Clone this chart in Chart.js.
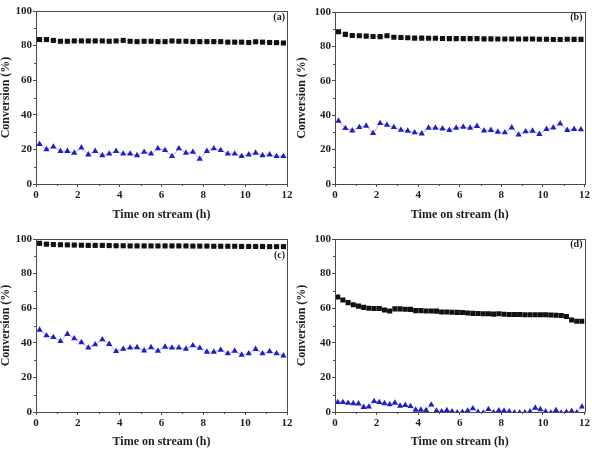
<!DOCTYPE html>
<html>
<head>
<meta charset="utf-8">
<script src="https://cdn.jsdelivr.net/npm/chart.js@4/dist/chart.umd.min.js"></script>
<style>
  body { margin: 0; background: #fff; }
  #wrap { position: relative; width: 592px; height: 450px; }
  canvas { position: absolute; }
</style>
</head>
<body>
<div id="wrap">
  <canvas id="ca" width="296" height="225" style="left:0;top:0"></canvas>
  <canvas id="cb" width="296" height="225" style="left:296px;top:0"></canvas>
  <canvas id="cc" width="296" height="225" style="left:0;top:225px"></canvas>
  <canvas id="cd" width="296" height="225" style="left:296px;top:225px"></canvas>
</div>
<script>
// sampling times (h)
const timeABC = [0.17, 0.5, 0.83, 1.17, 1.5, 1.83, 2.17, 2.5, 2.83, 3.17, 3.5, 3.83,
  4.17, 4.5, 4.83, 5.17, 5.5, 5.83, 6.17, 6.5, 6.83, 7.17, 7.5, 7.83,
  8.17, 8.5, 8.83, 9.17, 9.5, 9.83, 10.17, 10.5, 10.83, 11.17, 11.5, 11.83];
const timeD = [0.13, 0.38, 0.63, 0.88, 1.13, 1.38, 1.63, 1.88, 2.13, 2.38, 2.63, 2.88,
  3.13, 3.38, 3.63, 3.88, 4.13, 4.38, 4.63, 4.88, 5.13, 5.38, 5.63, 5.88,
  6.13, 6.38, 6.63, 6.88, 7.13, 7.38, 7.63, 7.88, 8.13, 8.38, 8.63, 8.88,
  9.13, 9.38, 9.63, 9.88, 10.13, 10.38, 10.63, 10.88, 11.13, 11.38, 11.63, 11.88];

// (a)
const squaresA = [83.5, 83.5, 83, 82.5, 82.5, 82.7, 82.7, 82.7, 82.7, 82.7, 82.5, 82.7,
  83, 82.5, 82.3, 82.5, 82.5, 82.3, 82.3, 82.7, 82.5, 82.5, 82.3, 82.3,
  82.3, 82.3, 82.3, 82, 82, 82, 81.8, 82.2, 82, 81.8, 81.7, 81.5];
const trianglesA = [23, 20, 21.5, 19, 19, 18, 21, 17, 19, 16.5, 17.5, 19,
  17.5, 17.5, 16.5, 18.5, 17.5, 20.5, 19.5, 16, 20.5, 18, 18.5, 14.5,
  19, 20.5, 19.5, 17.5, 17.5, 16, 17, 18, 16.5, 17, 16, 16];

// (b)
const squaresB = [88.5, 87, 86.3, 86.2, 86, 85.8, 85.7, 86.2, 85.3, 85.2, 85, 84.8,
  84.8, 84.7, 84.7, 84.6, 84.5, 84.5, 84.5, 84.5, 84.5, 84.4, 84.4, 84.3,
  84.3, 84.3, 84.3, 84.3, 84.3, 84.2, 84.2, 84, 84, 84.2, 84.1, 84.1];
const trianglesB = [36.7, 32.4, 31, 33, 33.8, 29.5, 35.3, 34.3, 33, 31.4, 30.9, 29.9,
  29.3, 32.6, 32.6, 32.2, 31.3, 32.6, 33.2, 32.6, 33.6, 31, 31.3, 30.3,
  29.9, 32.8, 28.6, 30.5, 30.9, 29, 31.9, 32.8, 35.1, 31.3, 31.9, 31.7];

// (c)
const squaresC = [97.5, 97, 96.8, 96.7, 96.6, 96.5, 96.4, 96.3, 96.3, 96.3, 96.2, 96.1,
  96.1, 96, 96, 96, 96, 96, 96, 96, 96, 96, 95.9, 95.9,
  95.9, 95.8, 95.8, 95.8, 95.8, 95.7, 95.7, 95.7, 95.7, 95.6, 95.6, 95.6];
const trianglesC = [47.5, 44.2, 43.2, 40.9, 45, 42.5, 40.2, 37.1, 39, 41.9, 39.2, 35.1,
  36.5, 37.1, 37.3, 35.5, 37.3, 35.3, 37.6, 37.1, 37.1, 36.5, 38.4, 37,
  34.7, 34.7, 35.9, 33.8, 35.3, 33, 33.8, 36.3, 33.8, 35, 33.8, 32.6];

// (d)
const squaresD = [66.5, 64.7, 63.2, 62, 61.2, 60.5, 60, 59.8, 59.8, 59, 58.4, 59.6,
  59.6, 59.4, 59.3, 58.6, 58.6, 58.4, 58.4, 58.3, 57.8, 57.8, 57.7, 57.6,
  57.5, 57.2, 57, 56.9, 56.8, 56.8, 56.6, 56.8, 56.5, 56.4, 56.4, 56.4,
  56.2, 56.2, 56.2, 56.2, 56.2, 56.1, 55.9, 55.8, 55.2, 53.2, 52.5, 52.5];
const trianglesD = [5.6, 5.6, 5.2, 5, 4.8, 2.8, 3, 6.2, 5.6, 5, 4.3, 5.3,
  3.5, 4, 3.3, 1.2, 1.2, 1, 4.2, 0.7, 0.3, 1, 0.3, -0.3,
  0, 0.7, 2, 0, -0.5, 1.6, -0.3, 0.8, 0.6, 0.2, -0.3, -0.3,
  -0.3, 0.2, 2.4, 1.5, 0.2, -0.5, 1, -0.5, 0, 0.5, -0.3, 3];

const xTicks = [0, 2, 4, 6, 8, 10, 12];
const yTicks = [0, 20, 40, 60, 80, 100];

const serif = '"Liberation Serif", "Times New Roman", serif';
const axisColor = '#4a4a4a';
const textColor = '#1e1e1e';

const pts = (xs, ys) => xs.map((x, i) => ({ x: x, y: ys[i] }));

// box frame, minor ticks and panel letter
const framePlugin = {
  id: 'frame',
  afterDraw(chart, args, opts) {
    const { ctx, chartArea: a, scales } = chart;
    ctx.save();
    ctx.strokeStyle = axisColor;
    ctx.lineWidth = 1;
    ctx.strokeRect(Math.round(a.left) + 0.5, Math.round(a.top) + 0.5,
      Math.round(a.right - a.left), Math.round(a.bottom - a.top));
    ctx.beginPath();
    for (let v = 10; v < 100; v += 20) {
      const y = Math.round(scales.y.getPixelForValue(v)) + 0.5;
      ctx.moveTo(a.left, y);
      ctx.lineTo(a.left - 2, y);
    }
    for (let v = 1; v < 12; v += 2) {
      const x = Math.round(scales.x.getPixelForValue(v)) + 0.5;
      ctx.moveTo(x, a.bottom);
      ctx.lineTo(x, a.bottom + 2);
    }
    ctx.stroke();
    ctx.font = 'bold 10px ' + serif;
    ctx.fillStyle = textColor;
    ctx.textAlign = 'right';
    ctx.textBaseline = 'middle';
    ctx.fillText(opts.label, a.right - 2, opts.labelY);
    ctx.restore();
  }
};

function makePanel(id, times, squares, triangles, g) {
  new Chart(document.getElementById(id), {
    type: 'scatter',
    data: {
      datasets: [
        {
          data: pts(times, squares),
          showLine: true,
          borderColor: 'rgba(0,0,0,0.25)',
          borderWidth: 1,
          pointStyle: 'rect',
          pointRadius: 3.6,
          pointBackgroundColor: '#111',
          pointBorderColor: '#111',
          pointBorderWidth: 0
        },
        {
          data: pts(times, triangles),
          showLine: true,
          borderColor: 'rgba(100,100,225,0.55)',
          borderWidth: 1,
          pointStyle: 'triangle',
          pointRadius: 3.6,
          pointBackgroundColor: '#1f1fc4',
          pointBorderColor: '#1f1fc4',
          pointBorderWidth: 0
        }
      ]
    },
    options: {
      responsive: false,
      animation: false,
      layout: { padding: { left: 0, top: g.top, right: g.right, bottom: 0 } },
      plugins: {
        legend: { display: false },
        tooltip: { enabled: false },
        frame: { label: g.label, labelY: g.labelY }
      },
      scales: {
        x: {
          type: 'linear',
          min: 0,
          max: 12,
          afterBuildTicks: s => { s.ticks = xTicks.map(v => ({ value: v })); },
          afterFit: s => { s.height = g.xHeight; },
          grid: { drawOnChartArea: false, tickLength: 3, color: axisColor },
          border: { color: axisColor },
          ticks: {
            padding: 2,
            maxRotation: 0,
            color: textColor,
            font: { family: serif, size: 11, weight: 'bold' }
          },
          title: {
            display: true,
            text: 'Time on stream (h)',
            color: textColor,
            padding: { top: 0, bottom: g.xTitlePad },
            font: { family: serif, size: 12, weight: 'bold' }
          }
        },
        y: {
          min: 0,
          max: 100,
          afterBuildTicks: s => { s.ticks = yTicks.map(v => ({ value: v })); },
          afterFit: s => { s.width = g.yWidth; },
          grid: { drawOnChartArea: false, tickLength: 3, color: axisColor },
          border: { color: axisColor },
          ticks: {
            padding: 1,
            color: textColor,
            font: { family: serif, size: 11, weight: 'bold' }
          },
          title: {
            display: true,
            text: 'Conversion (%)',
            color: textColor,
            padding: 0,
            font: { family: serif, size: 12, weight: 'bold', lineHeight: 1 }
          }
        }
      }
    },
    plugins: [framePlugin]
  });
}

makePanel('ca', timeABC, squaresA, trianglesA,
  { label: '(a)', labelY: 17, top: 11, right: 9, yWidth: 36, xHeight: 41, xTitlePad: 3 });
makePanel('cb', timeABC, squaresB, trianglesB,
  { label: '(b)', labelY: 17.5, top: 12, right: 5, yWidth: 39, xHeight: 41, xTitlePad: 3 });
makePanel('cc', timeABC, squaresC, trianglesC,
  { label: '(c)', labelY: 30.5, top: 14, right: 9, yWidth: 36, xHeight: 38, xTitlePad: 1 });
makePanel('cd', timeD, squaresD, trianglesD,
  { label: '(d)', labelY: 19.5, top: 14, right: 7, yWidth: 39, xHeight: 38, xTitlePad: 1 });
</script>
</body>
</html>
